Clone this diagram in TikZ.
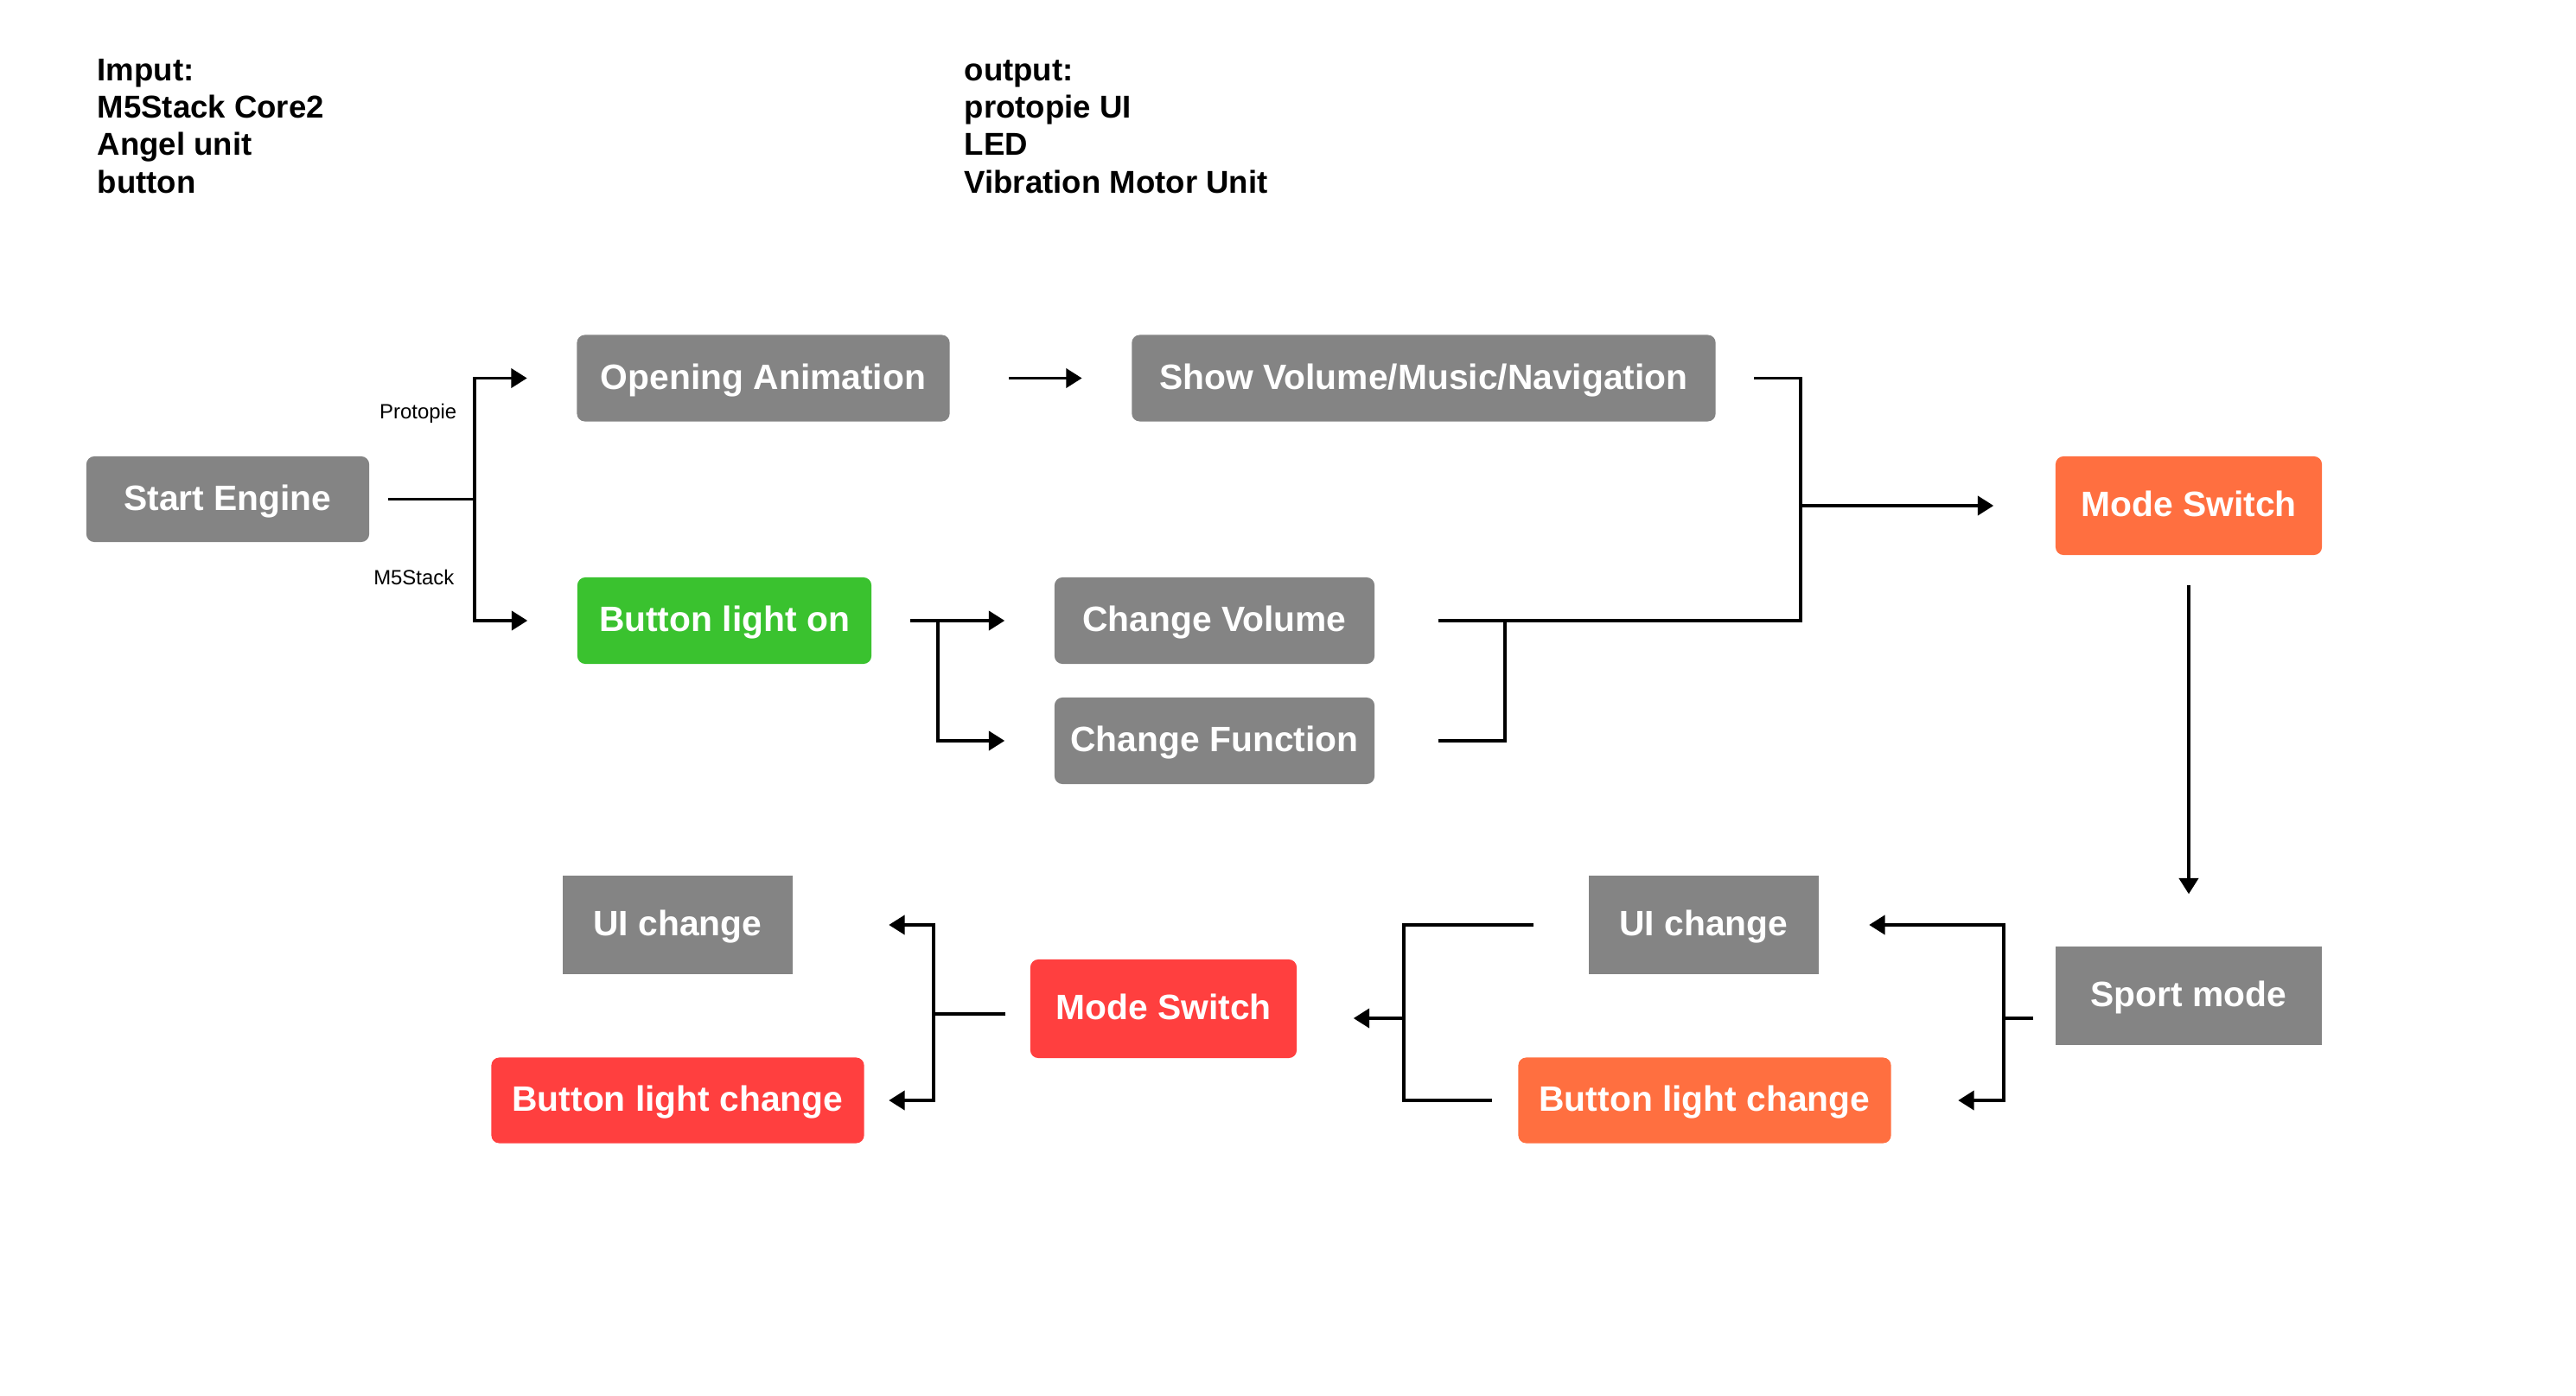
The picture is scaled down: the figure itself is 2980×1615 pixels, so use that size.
\documentclass[tikz,border=0pt]{standalone}
\usepackage{fontspec}
\setmainfont{Liberation Sans}
\usetikzlibrary{arrows.meta,calc}
\definecolor{boxgray}{RGB}{132,132,132}
\definecolor{boxgreen}{RGB}{58,194,47}
\definecolor{boxorange}{RGB}{255,111,64}
\definecolor{boxred}{RGB}{255,63,63}
\tikzset{
  flowbox/.style={fill=boxgray, text=white, font=\fontsize{11.6pt}{13pt}\selectfont\bfseries,
    rounded corners=2.6pt, inner sep=0pt, anchor=center, text height=0.716em, text depth=0pt},
  sharpbox/.style={flowbox, rounded corners=0pt},
  ln/.style={line width=0.95pt, line join=miter, draw=black},
  arr/.style={ln, -{Triangle[length=5.2pt,width=6.3pt]}},
  arrtwo/.style={ln, {Triangle[length=5.2pt,width=6.3pt]}-{Triangle[length=5.2pt,width=6.3pt]}},
  hdr/.style={font=\fontsize{10.4pt}{12.3pt}\selectfont\bfseries, align=left, inner sep=0pt, anchor=base west},
  lbl/.style={font=\fontsize{6.8pt}{8pt}\selectfont, inner sep=0pt, anchor=base east}
}
\begin{document}
\begin{tikzpicture}[x=0.01cm, y=-0.01cm]
\useasboundingbox[fill=white] (0,0) rectangle (2980,1615);

% headers (base anchor = baseline of the last line)
\node[hdr] (inp) at (112,223) {Imput:\\M5Stack Core2\\Angel unit\\button};
\node[hdr] (outp) at (1115,223) {output:\\protopie UI\\LED\\Vibration Motor Unit};

% boxes
\node[flowbox, minimum width=3.27cm, minimum height=0.99cm] (start) at (263.5,577.5) {Start Engine};
\node[flowbox, minimum width=4.31cm, minimum height=1.00cm] (open) at (883,437.5) {Opening Animation};
\node[flowbox, minimum width=6.75cm, minimum height=1.00cm] (show) at (1647,437.5) {Show Volume/Music/Navigation};
\node[flowbox, fill=boxgreen, minimum width=3.40cm, minimum height=1.00cm] (blon) at (838,718) {Button light on};
\node[flowbox, minimum width=3.70cm, minimum height=1.00cm] (cvol) at (1405,718) {Change Volume};
\node[flowbox, minimum width=3.70cm, minimum height=1.00cm] (cfun) at (1405,857) {Change Function};
\node[flowbox, fill=boxorange, minimum width=3.08cm, minimum height=1.14cm] (msone) at (2532,585) {Mode Switch};
\node[sharpbox, minimum width=3.08cm, minimum height=1.14cm] (sport) at (2532,1152) {Sport mode};
\node[sharpbox, minimum width=2.65cm, minimum height=1.14cm] (uir) at (1971,1070) {UI change};
\node[flowbox, fill=boxorange, minimum width=4.31cm, minimum height=0.99cm] (blcr) at (1972,1273) {Button light change};
\node[flowbox, fill=boxred, minimum width=3.08cm, minimum height=1.14cm] (mstwo) at (1346,1167) {Mode Switch};
\node[sharpbox, minimum width=2.65cm, minimum height=1.14cm] (uil) at (784,1070) {UI change};
\node[flowbox, fill=boxred, minimum width=4.31cm, minimum height=0.99cm] (blcl) at (784,1273) {Button light change};

% labels
\node[lbl] (lprot) at (529,484) {Protopie};
\node[lbl] (lm5) at (526,676) {M5Stack};

% junction x positions
\coordinate (jA) at (549,0);
\coordinate (jB) at (2083,0);
\coordinate (jC) at (1741,0);
\coordinate (jD) at (1085,0);
\coordinate (jE) at (2318,0);
\coordinate (jF) at (1624,0);
\coordinate (jG) at (1080,0);

% start engine split
\draw[ln] ($(start.east)+(21,0)$) -- (jA |- start.east);
\draw[arrtwo] ($(open.west)+(-57,0)$) -- (jA |- open.west) -- (jA |- blon.west) -- ($(blon.west)+(-57,0)$);

% opening -> show
\draw[arr] ($(open.east)+(68,0)$) -- ($(show.west)+(-57,0)$);

% button light on -> change volume / function
\draw[arr] ($(blon.east)+(44,0)$) -- ($(cvol.west)+(-57,0)$);
\draw[arr] (jD |- cvol.west) -- (jD |- cfun.west) -- ($(cfun.west)+(-57,0)$);

% show / change volume / change function -> mode switch
\draw[ln] ($(show.east)+(44,0)$) -- (jB |- show.east) -- (jB |- cvol.east) -- ($(cvol.east)+(73,0)$);
\draw[ln] ($(cfun.east)+(73,0)$) -- (jC |- cfun.east) -- (jC |- cvol.east);
\draw[arr] (jB |- msone.west) -- ($(msone.west)+(-71,0)$);

% mode switch -> sport mode
\draw[arr] ($(msone.south)+(0,34)$) -- ($(sport.north)+(0,-60)$);

% sport mode -> UI change / button light change
\coordinate (sportout) at ($(sport.west)+(-25,26)$);
\draw[ln] (sportout) -- (jE |- sportout);
\draw[arrtwo] ($(uir.east)+(58,0)$) -- (jE |- uir.east) -- (jE |- blcr.east) -- ($(blcr.east)+(77,0)$);

% UI change / button light change -> mode switch
\draw[ln] ($(uir.west)+(-64,0)$) -- (jF |- uir.west) -- (jF |- blcr.west) -- ($(blcr.west)+(-30,0)$);
\coordinate (mstwoin) at ($(mstwo.east)+(65,11)$);
\draw[arr] (jF |- mstwoin) -- (mstwoin);

% mode switch -> UI change / button light change
\coordinate (mstwoout) at ($(mstwo.west)+(-28,6)$);
\draw[ln] (mstwoout) -- (jG |- mstwoout);
\draw[arrtwo] ($(uil.east)+(111,0)$) -- (jG |- uil.east) -- (jG |- blcl.east) -- ($(blcl.east)+(28,0)$);
\end{tikzpicture}
\end{document}
